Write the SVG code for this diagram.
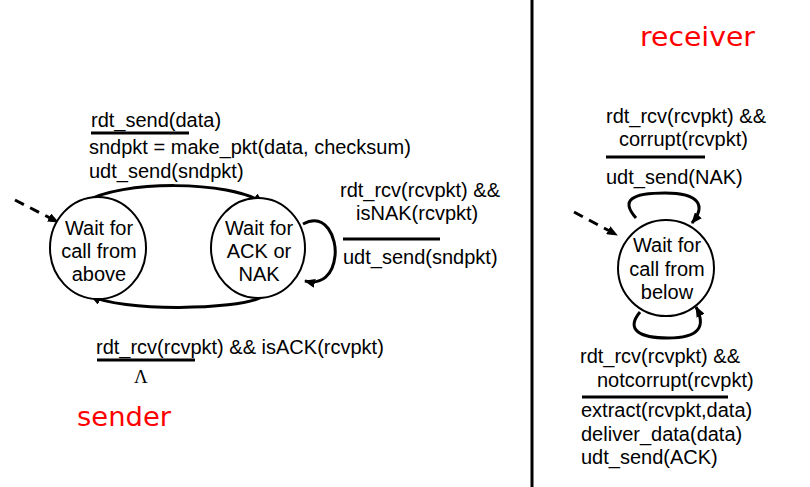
<svg xmlns="http://www.w3.org/2000/svg" width="810" height="487" viewBox="0 0 810 487">
<style>
.t{font-family:"Liberation Sans",Arial,sans-serif;font-size:20px;fill:#000}
.c{font-family:"Liberation Sans",Arial,sans-serif;font-size:20px;fill:#000;text-anchor:middle}
.r{font-family:"Comic Sans MS","DejaVu Sans",sans-serif;font-size:26px;fill:#ff0000}
.st{fill:#fff;stroke:#000;stroke-width:2}
.e{fill:none;stroke:#000;stroke-width:3}
.d{fill:none;stroke:#000;stroke-width:3;stroke-dasharray:10,7}
.u{stroke:#000;stroke-width:3}
</style>
<defs>
<marker id="ah" markerUnits="userSpaceOnUse" markerWidth="11" markerHeight="9" refX="10" refY="4.5" orient="auto">
<path d="M0,0 L11,4.5 L0,9 z" fill="#000"/>
</marker>
</defs>
<rect width="810" height="487" fill="#fff"/>
<line x1="532" y1="0" x2="532" y2="487" stroke="#000" stroke-width="3"/>
<text class="r" x="640" y="46" textLength="115" lengthAdjust="spacingAndGlyphs">receiver</text>
<text class="r" x="77" y="426" textLength="94" lengthAdjust="spacingAndGlyphs">sender</text>

<g id="connectors">
<path class="d" d="M15,200 L58,222" marker-end="url(#ah)"/>
<path class="e" d="M85,202 C120,180 230,180 263,203" marker-end="url(#ah)"/>
<path class="e" d="M262,297 C235,311 120,311 91,296" marker-end="url(#ah)"/>
<path class="e" d="M303,224 C326,212 337,238 335,256 C333,275 322,285 305,281" marker-end="url(#ah)"/>
<path class="d" d="M574,212 L617,235" marker-end="url(#ah)"/>
<path class="e" d="M636,218 C620,200 632,193 665,193 C700,193 706,206 692,223" marker-end="url(#ah)"/>
<path class="e" d="M640,312 C625,330 640,338 668,338 C700,338 706,326 696,307" marker-end="url(#ah)"/>
</g>

<g id="label-send">
<text class="t" x="91" y="127">rdt_send(data)</text>
<line class="u" x1="91" y1="133" x2="189" y2="133"/>
<text class="t" x="89" y="154">sndpkt = make_pkt(data, checksum)</text>
<text class="t" x="89" y="178">udt_send(sndpkt)</text>
</g>
<g id="label-nak">
<text class="t" x="340" y="197">rdt_rcv(rcvpkt) &amp;&amp;</text>
<text class="t" x="356" y="220">isNAK(rcvpkt)</text>
<line class="u" x1="343" y1="239" x2="440" y2="239"/>
<text class="t" x="343" y="264">udt_send(sndpkt)</text>
</g>
<g id="label-ack">
<text class="t" x="96" y="354">rdt_rcv(rcvpkt) &amp;&amp; isACK(rcvpkt)</text>
<line class="u" x1="97" y1="360" x2="195" y2="360"/>
<text x="134" y="383" style="font-family:'Liberation Serif','Times New Roman',serif;font-size:19px">Λ</text>
</g>
<g id="label-corrupt">
<text class="t" x="606" y="123">rdt_rcv(rcvpkt) &amp;&amp;</text>
<text class="t" x="619" y="146">corrupt(rcvpkt)</text>
<line class="u" x1="606" y1="157" x2="705" y2="157"/>
<text class="t" x="606" y="184">udt_send(NAK)</text>
</g>
<g id="label-notcorrupt">
<text class="t" x="580" y="363">rdt_rcv(rcvpkt) &amp;&amp;</text>
<text class="t" x="597" y="387">notcorrupt(rcvpkt)</text>
<line class="u" x1="582" y1="397" x2="728" y2="397"/>
<text class="t" x="581" y="417">extract(rcvpkt,data)</text>
<text class="t" x="581" y="441">deliver_data(data)</text>
<text class="t" x="581" y="464">udt_send(ACK)</text>
</g>

<g id="wait-above">
<ellipse class="st" cx="98" cy="248" rx="48" ry="51"/>
<text class="c" x="99" y="235">Wait for</text>
<text class="c" x="99" y="258">call from</text>
<text class="c" x="99" y="281">above</text>
</g>
<g id="wait-ack">
<ellipse class="st" cx="258" cy="248" rx="47" ry="50"/>
<text class="c" x="259" y="235">Wait for</text>
<text class="c" x="259" y="258">ACK or</text>
<text class="c" x="259" y="281">NAK</text>
</g>
<g id="wait-below">
<ellipse class="st" cx="666" cy="268" rx="48" ry="48"/>
<text class="c" x="667" y="252">Wait for</text>
<text class="c" x="667" y="276">call from</text>
<text class="c" x="667" y="299">below</text>
</g>
</svg>
